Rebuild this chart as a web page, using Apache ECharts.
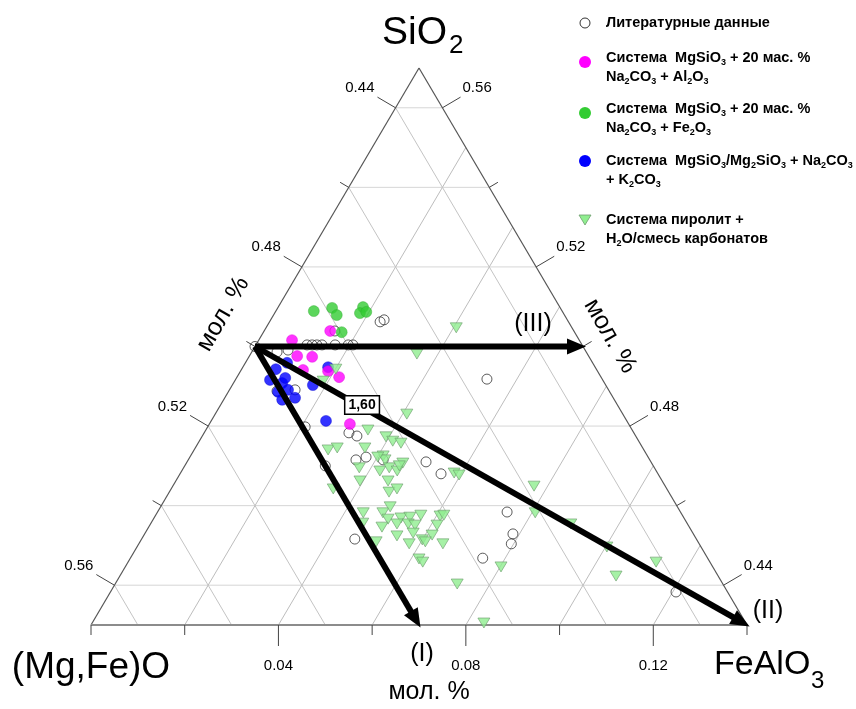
<!DOCTYPE html>
<html><head><meta charset="utf-8">
<script src="https://cdn.jsdelivr.net/npm/echarts@6/dist/echarts.min.js"></script>
<style>html,body{margin:0;padding:0;background:#fff}#c{width:856px;height:709px}</style>
</head><body><div id="c"></div>
<script>
// Sub-triangle ranges (mole fractions)
const FE_MIN = 0.00;   // FeAlO3 at left/top
const SI_MIN = 0.43;   // SiO2 at bottom
const SPAN = 0.14;
const MG_MIN = 1 - FE_MIN - SI_MIN - SPAN; // 0.43

// Tick values
const bottomTicks = [0.00, 0.02, 0.04, 0.06, 0.08, 0.10, 0.12, 0.14];
const bottomLabels = ['0.04', '0.08', '0.12'];
const leftTicks = [0.44, 0.46, 0.48, 0.50, 0.52, 0.54, 0.56];   // (Mg,Fe)O
const leftLabels = ['0.44', '0.48', '0.52', '0.56'];
const rightTicks = [0.44, 0.46, 0.48, 0.50, 0.52, 0.54, 0.56];  // SiO2
const rightLabels = ['0.44', '0.48', '0.52', '0.56'];
const gridSi = [0.44, 0.46, 0.48, 0.50, 0.52, 0.54, 0.56];
const gridFe = [0.02, 0.04, 0.06, 0.08, 0.10, 0.12];
const gridMg = [0.44, 0.46, 0.48, 0.50, 0.52, 0.54, 0.56];

// Data: [FeAlO3, SiO2] mole fractions
const literature = [
  [0.0000,0.5000],[0.0054,0.4986],[0.0075,0.4991],[0.0109,0.5004],[0.0120,0.5004],[0.0130,0.5004],
  [0.0141,0.5004],[0.0169,0.5004],[0.0197,0.5004],[0.0207,0.5004],
  [0.0151,0.5039],[0.0236,0.5062],[0.0242,0.5067],[0.0103,0.4888],[0.0140,0.4891],[0.0208,0.4798],
  [0.0309,0.4783],[0.0330,0.4775],[0.0358,0.4715],[0.0376,0.4722],[0.0300,0.4700],[0.0416,0.4715],
  [0.0510,0.4710],[0.0557,0.4680],[0.0536,0.4918],[0.0746,0.4584],[0.0786,0.4529],[0.0795,0.4504],
  [0.0752,0.4468],[0.0455,0.4516],[0.1207,0.4383]
];
const alSystem = [
  [0.0071,0.5016],[0.0141,0.5039],[0.0102,0.4976],[0.0135,0.4974],[0.0132,0.4941],[0.0187,0.4938],
  [0.0218,0.4923],[0.0300,0.4805]
];
const feSystem = [
  [0.0081,0.5089],[0.0116,0.5097],[0.0135,0.5079],[0.0181,0.5099],[0.0182,0.5084],[0.0194,0.5087],
  [0.0167,0.5036]
];
const kSystem = [
  [0.0089,0.4959],[0.0073,0.4943],[0.0074,0.4916],[0.0104,0.4908],[0.0104,0.4921],[0.0106,0.4886],
  [0.0125,0.4891],[0.0125,0.4866],[0.0150,0.4871],[0.0172,0.4903],[0.0182,0.4948],[0.0245,0.4813]
];
const pyrolite = [
  [0.0406,0.5047],[0.0355,0.4981],[0.0409,0.4830],[0.0201,0.4943],[0.0189,0.4913],[0.0346,0.4790],
  [0.0393,0.4773],[0.0413,0.4762],[0.0433,0.4757],[0.0286,0.4740],[0.0303,0.4745],[0.0362,0.4745],
  [0.0411,0.4725],[0.0420,0.4715],[0.0375,0.4695],[0.0423,0.4687],[0.0439,0.4695],[0.0460,0.4687],
  [0.0462,0.4707],[0.0458,0.4700],[0.0584,0.4682],[0.0597,0.4677],[0.0393,0.4662],[0.0453,0.4662],
  [0.0346,0.4642],[0.0469,0.4634],[0.0482,0.4642],[0.0440,0.4582],[0.0482,0.4582],[0.0490,0.4597],
  [0.0501,0.4566],[0.0498,0.4546],[0.0452,0.4556],[0.0527,0.4569],[0.0526,0.4554],[0.0545,0.4571],
  [0.0566,0.4576],[0.0550,0.4554],[0.0566,0.4551],[0.0572,0.4531],[0.0608,0.4574],[0.0615,0.4576],
  [0.0613,0.4551],[0.0615,0.4526],[0.0600,0.4514],[0.0609,0.4509],[0.0541,0.4524],[0.0577,0.4504],
  [0.0649,0.4504],[0.0504,0.4509],[0.0617,0.4466],[0.0629,0.4458],[0.0401,0.4722],[0.0771,0.4649],
  [0.0807,0.4582],[0.0897,0.4554],[0.1003,0.4496],[0.0802,0.4446],[0.1127,0.4458],[0.1059,0.4423],
  [0.0730,0.4403],[0.0836,0.4305]
];
// Trend arrows: start and end compositions
const arrowFrom = [[0.00,0.50],[0.00,0.50],[0.00,0.50]];
const arrowTo = [[0.07,0.43],[0.14,0.43],[0.07,0.50]];
const arrowNames = ['(I)','(II)','(III)'];
const ratioText = '1,60';
const ratioAt = [0.0302, 0.4853];

const FONT = '"Liberation Sans", Arial, Helvetica, sans-serif';

function tern(fe, si) {
  const s = (si - SI_MIN) / SPAN;
  return [(fe - FE_MIN) / SPAN + s / 2, s];
}

// Build segments
const segs = [], segStyle = [];
function addSeg(a, b, color, w) { segs.push(a.concat(b)); segStyle.push({color, w}); }
gridSi.forEach(v => addSeg(tern(FE_MIN, v), tern(1 - MG_MIN - v, v), '#d6d6d6', 1));
gridFe.forEach(f => addSeg(tern(f, SI_MIN), tern(f, 1 - MG_MIN - f), '#bdbdbd', 1));
gridMg.forEach(m => addSeg(tern(FE_MIN, 1 - m - FE_MIN), tern(1 - m - SI_MIN, SI_MIN), '#c4c4c4', 1));
const apexC = tern(FE_MIN, SI_MIN + SPAN), leftC = tern(FE_MIN, SI_MIN), rightC = tern(FE_MIN + SPAN, SI_MIN);
addSeg(leftC, apexC, '#555555', 1.2);
addSeg(rightC, apexC, '#555555', 1.2);
addSeg(leftC, rightC, '#8c8c8c', 2);

// Ticks
const ticks = [], tickInfo = [];
bottomTicks.forEach(f => { const l = f.toFixed(2); const maj = bottomLabels.includes(l);
  ticks.push(tern(f, SI_MIN)); tickInfo.push({side:'B', major: maj, label: maj ? l : null}); });
leftTicks.forEach(m => { const l = m.toFixed(2); const maj = leftLabels.includes(l);
  ticks.push(tern(FE_MIN, 1 - m - FE_MIN)); tickInfo.push({side:'L', major: maj, label: maj ? l : null}); });
rightTicks.forEach(s => { const l = s.toFixed(2); const maj = rightLabels.includes(l);
  ticks.push(tern(1 - MG_MIN - s, s)); tickInfo.push({side:'R', major: maj, label: maj ? l : null}); });

function norm(v) { const l = Math.hypot(v[0], v[1]); return [v[0]/l, v[1]/l]; }

const chart = echarts.init(document.getElementById('c'), null, {renderer: 'canvas'});

const legendItems = [
  {sym:'open', y:23, textTop:13, text:'Литературные данные'},
  {sym:'#ff00ff', y:62, textTop:48, text:'Система  MgSiO{s|3} + 20 мас. %\nNa{s|2}CO{s|3} + Al{s|2}O{s|3}'},
  {sym:'#33cc33', y:113, textTop:99, text:'Система  MgSiO{s|3} + 20 мас. %\nNa{s|2}CO{s|3} + Fe{s|2}O{s|3}'},
  {sym:'#0000ff', y:161, textTop:151, text:'Система  MgSiO{s|3}/Mg{s|2}SiO{s|3} + Na{s|2}CO{s|3}\n+ K{s|2}CO{s|3}'},
  {sym:'tri', y:220, textTop:210, text:'Система пиролит +\nH{s|2}O/смесь карбонатов'}
];
const graphics = [];
legendItems.forEach(it => {
  if (it.sym === 'open') graphics.push({type:'circle', shape:{cx:585, cy:it.y, r:5}, style:{fill:'none', stroke:'#333', lineWidth:1}});
  else if (it.sym === 'tri') graphics.push({type:'polygon', shape:{points:[[579,215],[591,215],[585,225]]}, style:{fill:'#90ee90', stroke:'#6d9d6d', lineWidth:0.8}});
  else graphics.push({type:'circle', shape:{cx:585, cy:it.y, r:6}, style:{fill:it.sym}});
  graphics.push({type:'text', x:606, y:it.textTop, style:{text:it.text, font:'bold 14.5px ' + FONT, fill:'#000', lineHeight:19,
    verticalAlign:'top', align:'left',
    rich:{s:{fontSize:9, fontWeight:'bold', fontFamily:FONT, verticalAlign:'bottom', lineHeight:13}}}});
});
// vertex titles
graphics.push({type:'text', x:382, y:33, style:{text:'SiO', font:'39px ' + FONT, fill:'#000', verticalAlign:'middle', align:'left'}});
graphics.push({type:'text', x:449, y:46, style:{text:'2', font:'26px ' + FONT, fill:'#000', verticalAlign:'middle', align:'left'}});
graphics.push({type:'text', x:91, y:668, style:{text:'(Mg,Fe)O', font:'37px ' + FONT, fill:'#000', verticalAlign:'middle', align:'center'}});
graphics.push({type:'text', x:714, y:665, style:{text:'FeAlO', font:'34px ' + FONT, fill:'#000', verticalAlign:'middle', align:'left'}});
graphics.push({type:'text', x:811, y:681, style:{text:'3', font:'24px ' + FONT, fill:'#000', verticalAlign:'middle', align:'left'}});
// axis unit labels
graphics.push({type:'text', x:223, y:314, rotation:Math.PI/3, style:{text:'мол. %', font:'25px ' + FONT, fill:'#000', verticalAlign:'middle', align:'center'}});
graphics.push({type:'text', x:610, y:336, rotation:-Math.PI/3, style:{text:'мол. %', font:'25px ' + FONT, fill:'#000', verticalAlign:'middle', align:'center'}});
graphics.push({type:'text', x:429, y:692, style:{text:'мол. %', font:'25px ' + FONT, fill:'#000', verticalAlign:'middle', align:'center'}});

const arrowLabelOffset = [[3, 29], [21, -14], [-50, -22]];

const option = {
  animation: false,
  backgroundColor: '#fff',
  grid: {left: 91, top: 68, width: 656, height: 557, show: false},
  xAxis: {type: 'value', min: 0, max: 1, show: false},
  yAxis: {type: 'value', min: 0, max: 1, show: false},
  graphic: graphics,
  series: [
    {type: 'custom', name: 'grid', z: 1, silent: true, encode: {x: [0, 2], y: [1, 3]},
      data: segs,
      renderItem: (params, api) => {
        const st = segStyle[params.dataIndex];
        const p1 = api.coord([api.value(0), api.value(1)]);
        const p2 = api.coord([api.value(2), api.value(3)]);
        return {type: 'line', shape: {x1: p1[0], y1: p1[1], x2: p2[0], y2: p2[1]}, style: {stroke: st.color, lineWidth: st.w}};
      }},
    {type: 'custom', name: 'ticks', z: 2, silent: true, encode: {x: 0, y: 1},
      data: ticks,
      renderItem: (params, api) => {
        const info = tickInfo[params.dataIndex];
        const p = api.coord([api.value(0), api.value(1)]);
        const A = api.coord(apexC), L = api.coord(leftC), R = api.coord(rightC);
        let n;
        if (info.side === 'B') n = [0, 1];
        else if (info.side === 'L') { const d = norm([A[0]-L[0], A[1]-L[1]]); n = [d[1], -d[0]]; }
        else { const d = norm([A[0]-R[0], A[1]-R[1]]); n = [-d[1], d[0]]; }
        const len = info.major ? 21 : 10;
        const e = [p[0] + n[0]*len, p[1] + n[1]*len];
        const children = [{type: 'line', shape: {x1: p[0], y1: p[1], x2: e[0], y2: e[1]}, style: {stroke: '#444', lineWidth: 1}}];
        if (info.label) {
          let tx, ty, al;
          if (info.side === 'B') { tx = e[0]; ty = e[1] + 20; al = 'center'; }
          else if (info.side === 'L') { tx = e[0] - 3; ty = e[1] - 9; al = 'right'; }
          else { tx = e[0] + 2; ty = e[1] - 9; al = 'left'; }
          children.push({type: 'text', x: tx, y: ty, style: {text: info.label, font: '15px ' + FONT, fill: '#000', align: al, verticalAlign: 'middle'}});
        }
        return {type: 'group', children};
      }},
    {type: 'scatter', name: 'Литературные данные', z: 3, symbol: 'circle', symbolSize: 10,
      itemStyle: {color: 'rgba(255,255,255,0)', borderColor: '#333', borderWidth: 1},
      data: literature.map(d => tern(d[0], d[1]))},
    {type: 'scatter', name: 'Система MgSiO3/Mg2SiO3 + Na2CO3 + K2CO3', z: 3, symbol: 'circle', symbolSize: 11,
      itemStyle: {color: '#0000ff', borderColor: '#0000cc', borderWidth: 0.5},
      data: kSystem.map(d => tern(d[0], d[1]))},
    {type: 'scatter', name: 'Система MgSiO3 + 20 мас. % Na2CO3 + Al2O3', z: 3, symbol: 'circle', symbolSize: 11,
      itemStyle: {color: '#ff00ff', borderColor: '#dd00dd', borderWidth: 0.5},
      data: alSystem.map(d => tern(d[0], d[1]))},
    {type: 'scatter', name: 'Система MgSiO3 + 20 мас. % Na2CO3 + Fe2O3', z: 3, symbol: 'circle', symbolSize: 11,
      itemStyle: {color: '#33cc33', borderColor: '#2aa82a', borderWidth: 0.5},
      data: feSystem.map(d => tern(d[0], d[1]))},
    {type: 'scatter', name: 'Система пиролит + H2O/смесь карбонатов', z: 3, symbol: 'triangle', symbolRotate: 180, symbolSize: [12, 10],
      itemStyle: {color: '#90ee90', borderColor: '#6d9d6d', borderWidth: 0.8},
      data: pyrolite.map(d => tern(d[0], d[1]))},
    {type: 'custom', name: 'arrows', z: 10, silent: true, encode: {x: [0, 2], y: [1, 3]},
      data: arrowFrom.map((a, i) => tern(a[0], a[1]).concat(tern(arrowTo[i][0], arrowTo[i][1]))),
      renderItem: (params, api) => {
        const i = params.dataIndex;
        const p1 = api.coord([api.value(0), api.value(1)]);
        const p2 = api.coord([api.value(2), api.value(3)]);
        const d = norm([p2[0]-p1[0], p2[1]-p1[1]]);
        const pp = [-d[1], d[0]];
        const tip = [p2[0] + d[0]*3, p2[1] + d[1]*3];
        const hl = 19, hw = 8;
        const base = [tip[0] - d[0]*hl, tip[1] - d[1]*hl];
        const off = arrowLabelOffset[i];
        return {type: 'group', children: [
          {type: 'line', shape: {x1: p1[0], y1: p1[1], x2: base[0] + d[0]*2, y2: base[1] + d[1]*2}, style: {stroke: '#000', lineWidth: 6}},
          {type: 'polygon', shape: {points: [tip, [base[0] + pp[0]*hw, base[1] + pp[1]*hw], [base[0] - pp[0]*hw, base[1] - pp[1]*hw]]}, style: {fill: '#000'}},
          {type: 'text', x: p2[0] + off[0], y: p2[1] + off[1], style: {text: arrowNames[i], font: '25px ' + FONT, fill: '#000', align: 'center', verticalAlign: 'middle'}}
        ]};
      }},
    {type: 'custom', name: 'ratio', z: 11, silent: true, encode: {x: 0, y: 1},
      data: [tern(ratioAt[0], ratioAt[1])],
      renderItem: (params, api) => {
        const p = api.coord([api.value(0), api.value(1)]);
        return {type: 'text', x: p[0], y: p[1], style: {text: ratioText, font: 'bold 14px ' + FONT, fill: '#000', align: 'center', verticalAlign: 'middle',
          backgroundColor: '#fff', borderColor: '#000', borderWidth: 1.5, padding: [2, 3, 1, 3]}};
      }}
  ]
};
chart.setOption(option);
</script>
</body></html>
